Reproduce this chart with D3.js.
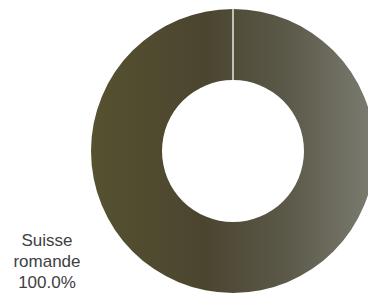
<!DOCTYPE html>
<html>
<head>
<meta charset="utf-8">
<script src="https://cdn.jsdelivr.net/npm/d3@7"></script>
<style>
  body { margin: 0; background: #fff; }
  text { font-family: "Liberation Sans", Arial, sans-serif; }
</style>
</head>
<body>
<div id="chart"></div>
<script>
// data
var categories = ["Suisse romande"];
var values = [100];
var labelLines = ["Suisse", "romande", "100.0%"];

var svgWidth = 368;
var svgHeight = 295;

var cx = 233;
var cy = 151;
var outerR = 142;
var innerR = 71;

var svg = d3.select("#chart")
  .append("svg")
  .attr("width", svgWidth)
  .attr("height", svgHeight);

// horizontal gradient across the ring (coords local to the centred group)
var defs = svg.append("defs");
var grad = defs.append("linearGradient")
  .attr("id", "ringFill")
  .attr("gradientUnits", "userSpaceOnUse")
  .attr("x1", -outerR).attr("y1", 0)
  .attr("x2", outerR).attr("y2", 0);
grad.append("stop").attr("offset", "0%").attr("stop-color", "#56512f");
grad.append("stop").attr("offset", "40%").attr("stop-color", "#4b4530");
grad.append("stop").attr("offset", "70%").attr("stop-color", "#5c5a4a");
grad.append("stop").attr("offset", "100%").attr("stop-color", "#7d7c72");

var chartGroup = svg.append("g")
  .attr("transform", `translate(${cx}, ${cy})`);

var pie = d3.pie().sort(null);
var arc = d3.arc().innerRadius(innerR).outerRadius(outerR);

var slices = pie(values);

chartGroup.selectAll("path.slice")
  .data(slices)
  .enter()
  .append("path")
  .attr("class", "slice")
  .attr("d", arc)
  .attr("fill", "url(#ringFill)");

// white slice border at the start angle
var radial = d3.lineRadial();
chartGroup.selectAll("path.sep")
  .data(slices)
  .enter()
  .append("path")
  .attr("class", "sep")
  .attr("d", d => radial([[d.startAngle, innerR], [d.startAngle, outerR]]))
  .attr("stroke", "#e8e8e4")
  .attr("stroke-width", 1.5)
  .attr("fill", "none");

// data label
svg.append("text")
  .attr("x", 47)
  .attr("y", 246)
  .attr("text-anchor", "middle")
  .attr("font-size", "17px")
  .attr("fill", "#404040")
  .selectAll("tspan")
  .data(labelLines)
  .enter()
  .append("tspan")
  .attr("x", 47)
  .attr("dy", (d, i) => i === 0 ? 0 : 21)
  .text(d => d);
</script>
</body>
</html>
